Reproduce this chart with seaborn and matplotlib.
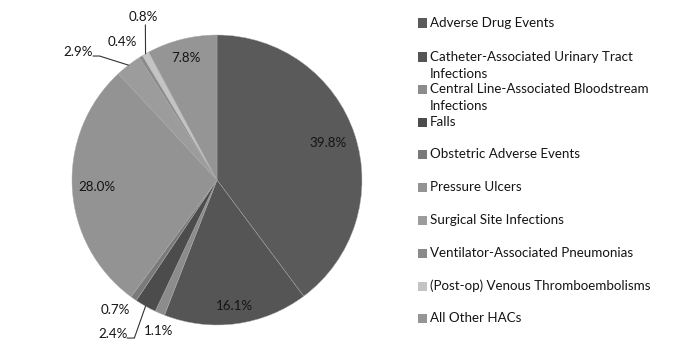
import numpy as np
import matplotlib
matplotlib.use("Agg")
import matplotlib.pyplot as plt
import seaborn as sns
from matplotlib.patches import Rectangle

categories = [
    "Adverse Drug Events",
    "Catheter-Associated Urinary Tract\nInfections",
    "Central Line-Associated Bloodstream\nInfections",
    "Falls",
    "Obstetric Adverse Events",
    "Pressure Ulcers",
    "Surgical Site Infections",
    "Ventilator-Associated Pneumonias",
    "(Post-op) Venous Thromboembolisms",
    "All Other HACs",
]
values = [39.8, 16.1, 1.1, 2.4, 0.7, 28.0, 2.9, 0.4, 0.8, 7.8]
pct_labels = ["39.8%", "16.1%", "1.1%", "2.4%", "0.7%", "28.0%", "2.9%", "0.4%", "0.8%", "7.8%"]

colors = ["#5a5a5a", "#555555", "#8c8c8c", "#4c4c4c", "#7a7a7a",
          "#939393", "#9c9c9c", "#8a8a8a", "#c4c4c4", "#959595"]

sns.set_theme(style="white")
plt.rcParams["font.family"] = ["Lato", "DejaVu Sans"]

W, H = 674, 360
fig = plt.figure(figsize=(W / 100, H / 100), dpi=100)
fig.patch.set_facecolor("white")

cx, cy, R = 217, 180, 145
ax = fig.add_axes([(cx - R) / W, (H - cy - R) / H, 2 * R / W, 2 * R / H])

wedges, _ = ax.pie(values, colors=colors, startangle=90, counterclock=False,
                   radius=1, wedgeprops=dict(edgecolor="#a8a8a8", linewidth=0.3))
ax.set_xlim(-1, 1)
ax.set_ylim(-1, 1)
ax.set_aspect("equal")
ax.axis("off")

txt_color = "#141414"
fs = 9.6

# label placement (layout): inside at given radius; else outside (x, y) in radius units
inside_r = {0: 0.81, 1: 0.875, 5: 0.83, 9: 0.87}
outside_pos = {2: (-0.40, -1.04), 3: (-0.72, -1.06), 4: (-0.70, -0.90),
               6: (-0.96, 0.88), 7: (-0.655, 0.955), 8: (-0.51, 1.125)}

for i, w in enumerate(wedges):
    mid = np.deg2rad((w.theta1 + w.theta2) / 2)
    ex, ey = np.cos(mid), np.sin(mid)
    if i in inside_r:
        r = inside_r[i]
        ax.text(r * ex, r * ey, pct_labels[i], ha="center", va="center",
                fontsize=fs, color=txt_color)
    else:
        tx, ty = outside_pos[i]
        ax.text(tx, ty, pct_labels[i], ha="center", va="center",
                fontsize=fs, color=txt_color, clip_on=False)

# leader lines
def leader(i, pts):
    w = wedges[i]
    mid = np.deg2rad((w.theta1 + w.theta2) / 2)
    ex, ey = np.cos(mid), np.sin(mid)
    xs = [p[0] for p in pts] + [ex]
    ys = [p[1] for p in pts] + [ey]
    ax.plot(xs, ys, color="#333333", lw=0.8, clip_on=False)

leader(6, [(-0.855, 0.855), (-0.81, 0.855)])
leader(8, [(-0.494, 1.07)])
leader(3, [(-0.62, -1.09), (-0.57, -1.09)])

# legend (drawn manually to match layout)
leg_rows = [23, 57, 89, 122, 154, 187, 220, 253, 286, 318]
line_gap = 16.5
for i, (lab, col) in enumerate(zip(categories, colors)):
    ypix = leg_rows[i]
    fig.patches.append(Rectangle((418 / W, 1 - (ypix + 4.5) / H), 9 / W, 9 / H,
                                 transform=fig.transFigure, facecolor=col,
                                 edgecolor="none"))
    for k, line in enumerate(lab.split("\n")):
        fig.text(430 / W, 1 - (ypix + k * line_gap) / H, line, ha="left", va="center",
                 fontsize=fs, color=txt_color)

fig.savefig("out.png", dpi=100, facecolor="white")
